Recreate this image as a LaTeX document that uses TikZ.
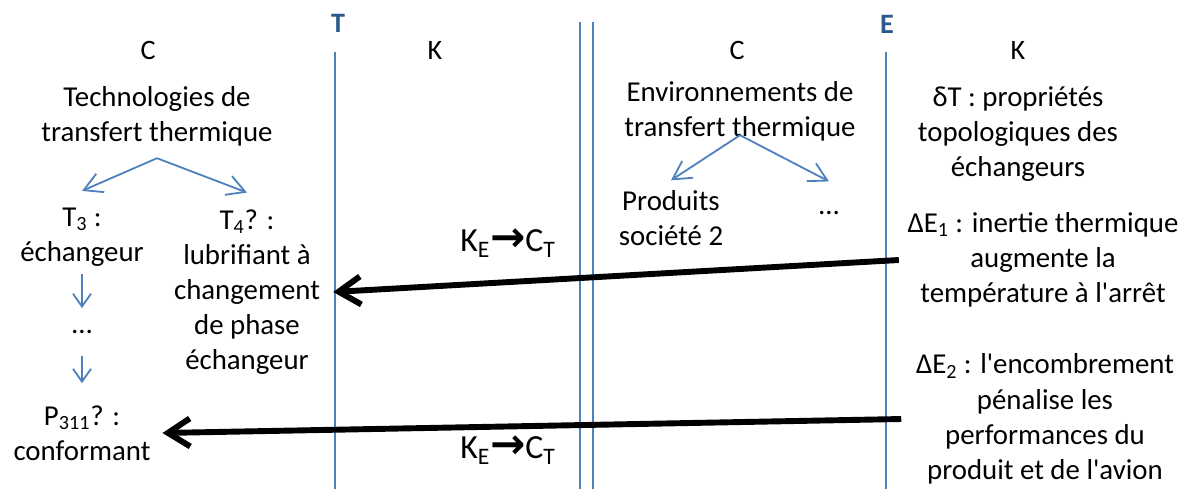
\documentclass[tikz,border=0pt]{standalone}
\usepackage{fontspec}
\setmainfont{Carlito}
\newfontfamily\arrowfont{DejaVu Sans}
\usepackage{tikz}
\usepackage{xcolor}
\usetikzlibrary{positioning, arrows.meta}

\definecolor{ruleblue}{HTML}{4F81BD}
\definecolor{labelblue}{HTML}{2C5A8C}

\newcommand{\bodyfont}{\fontsize{20.5}{25}\selectfont}
\newcommand{\headfont}{\fontsize{20}{24}\selectfont}
\newcommand{\kc}{K\textsubscript{E}{\arrowfont\bfseries\fontsize{30}{30}\selectfont →}C\textsubscript{T}}

\begin{document}
\begin{tikzpicture}[
  x=0.025cm,
  y=-0.025cm,
  txt/.style={
    align=center,
    inner sep=0pt,
    font=\bodyfont,
  },
  head/.style={
    inner sep=0pt,
    font=\headfont,
  },
  axis/.style={
    inner sep=0pt,
    font=\fontsize{20}{22}\selectfont\bfseries,
    text=labelblue,
  },
  rule/.style={draw=ruleblue, line width=1.4pt},
  branch/.style={draw=ruleblue, line width=1.3pt, -{Straight Barb[length=4.5mm,width=5mm]}},
  drop/.style={draw=ruleblue, line width=1.3pt, -{Straight Barb[length=3.2mm,width=4.5mm]}},
  link/.style={draw, line width=4.2pt, -{Straight Barb[length=5.5mm,width=7mm]}},
]
\useasboundingbox (0,0) rectangle (1184,489);

\draw[rule] (335,52) -- (335,489);
\draw[rule] (580,22) -- (580,489);
\draw[rule] (593,22) -- (593,489);
\draw[rule] (886,52) -- (886,489);
\node[axis] (tlab) at (338,23) {T};
\node[axis] (elab) at (887,24) {E};

\node[head] (c1) at (148,50) {C};
\node[head] (k1) at (435,50) {K};
\node[head] (c2) at (737,50) {C};
\node[head] (k2) at (1018,50) {K};

\node[txt] (techno) at (157,116) {Technologies de\\transfert thermique};
\coordinate[below=0.3cm of techno.south] (fork1);
\node[txt, outer ysep=0.42cm] (t3) at (82,237) {T\textsubscript{3} :\\échangeur};
\node[txt, outer xsep=0.33cm, outer ysep=0.42cm] (t4) at (247,292)
  {T\textsubscript{4}? :\\lubrifiant à\\changement\\de phase\\échangeur};
\node[txt, anchor=base] (dots1) at (82,333) {\strut…};
\node[txt, outer xsep=0.3cm] (p311) at (82,433) {P\textsubscript{311}? :\\conformant};

\node[txt] (enviro) at (740,111) {Environnements de\\transfert thermique};
\coordinate[above=0.15cm of enviro.south] (fork2);
\node[txt, outer ysep=0.25cm] (prod) at (671,218) {Produits\\société 2};
\node[txt, anchor=base, outer ysep=0.2cm] (dots2) at (829,214) {\strut…};

\node[txt] (dtop) at (1018,134) {δT : propriétés\\topologiques des\\échangeurs};
\node[txt, outer xsep=0.22cm] (e1) at (1043,260)
  {ΔE\textsubscript{1} : inertie thermique\\augmente la\\température à l\textquotesingle arrêt};
\node[txt, outer xsep=0.37cm] (e2) at (1045,419)
  {ΔE\textsubscript{2} : l\textquotesingle encombrement\\pénalise les\\performances du\\produit et de l\textquotesingle avion};

\node[txt, font=\fontsize{24}{28}\selectfont] (kc1) at (508,243) {\kc};
\node[txt, font=\fontsize{24}{28}\selectfont] (kc2) at (508,450) {\kc};

\draw[branch] (fork1) -- (t3.north);
\draw[branch] (fork1) -- (t4.north);
\draw[branch] (fork2) -- (prod.north);
\draw[branch] (fork2) -- (dots2.north);
\draw[drop, shorten <=-0.22cm] (t3.south) -- (dots1.north);
\draw[drop, shorten <=0.3cm, shorten >=0.55cm] (dots1.south) -- (p311.north);

\draw[link] (e1.west) -- (t4.east);
\draw[link] (e2.west) -- (p311.east);
\end{tikzpicture}
\end{document}
